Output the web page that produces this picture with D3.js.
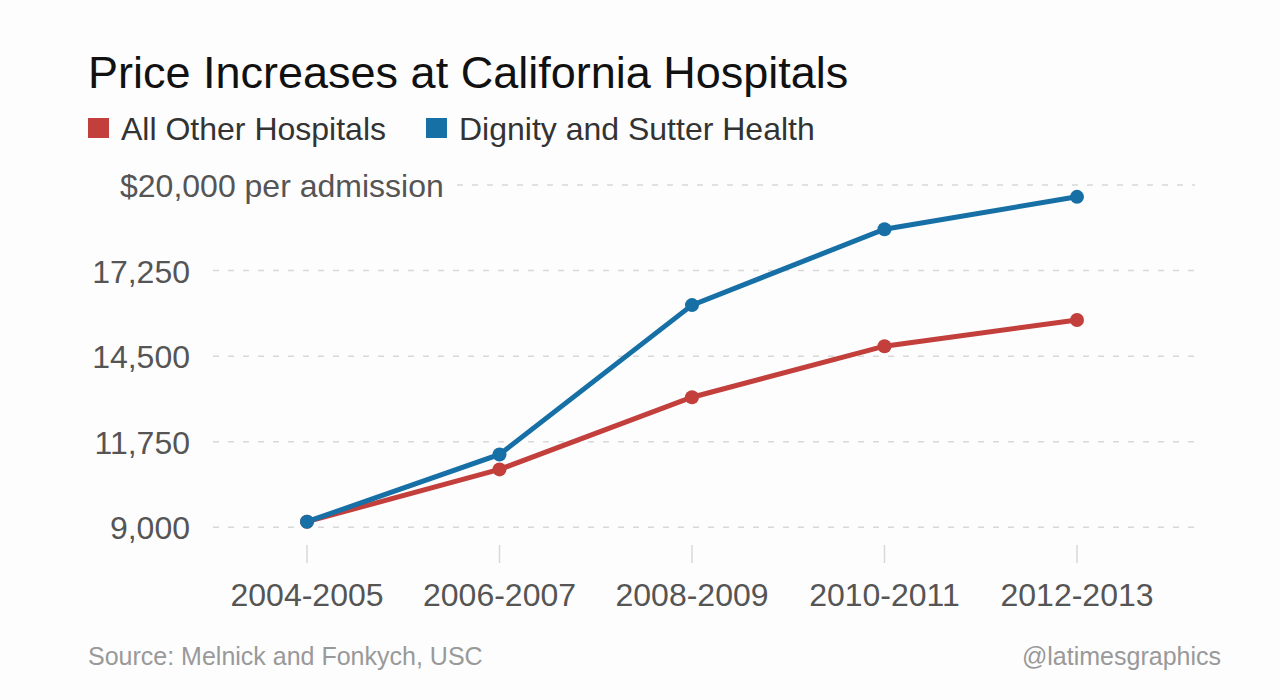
<!DOCTYPE html>
<html><head><meta charset="utf-8">
<script src="https://cdn.jsdelivr.net/npm/d3@7"></script>
<style>
body{margin:0;background:#fff;}
svg{font-family:"Liberation Sans",Arial,Helvetica,sans-serif;}
</style></head>
<body><svg id="c" width="1280" height="700"></svg>
<script>
const categories = ["2004-2005","2006-2007","2008-2009","2010-2011","2012-2013"];
const otherHospitals = [9180, 10860, 13180, 14820, 15660];
const dignitySutter = [9180, 11340, 16140, 18580, 19620];
const yTicks = [9000, 11750, 14500, 17250, 20000];
const seriesNames = ["All Other Hospitals", "Dignity and Sutter Health"];
const colors = ["#c23f3b", "#1670a6"];

const svg = d3.select("#c");
svg.append("rect").attr("width",1280).attr("height",700).attr("fill","#fdfdfe");

const x = d3.scalePoint().domain(categories).range([307, 1077]);
const y = d3.scaleLinear().domain([9000, 20000]).range([527.3, 185]);

// title
svg.append("text").attr("x",88).attr("y",88).attr("font-size",45).attr("fill","#111")
  .text("Price Increases at California Hospitals");

// legend
const leg = svg.append("g");
let lx = 88;
seriesNames.forEach((n,i)=>{
  leg.append("rect").attr("x",lx).attr("y",118).attr("width",21).attr("height",20).attr("fill",colors[i]);
  const t = leg.append("text").attr("x",lx+33).attr("y",140).attr("font-size",32).attr("fill","#333").text(n);
  lx += 33 + t.node().getComputedTextLength() + 40;
});

// grid
yTicks.forEach(v=>{
  svg.append("line").attr("x1", v===20000?457:213).attr("x2",1195)
    .attr("y1",y(v)).attr("y2",y(v))
    .attr("stroke","#d8d8d8").attr("stroke-width",1.5).attr("stroke-dasharray","6,9");
});

// y labels
yTicks.forEach(v=>{
  if (v===20000) {
    svg.append("text").attr("x",120).attr("y",y(v)+12).attr("font-size",32).attr("fill","#555")
      .text("$" + d3.format(",")(v) + " per admission");
  } else {
    svg.append("text").attr("x",190).attr("y",y(v)+12).attr("font-size",32).attr("fill","#555")
      .attr("text-anchor","end").text(d3.format(",")(v));
  }
});

// x axis ticks + labels
const xa = svg.append("g");
categories.forEach(c=>{
  xa.append("line").attr("x1",x(c)).attr("x2",x(c)).attr("y1",545).attr("y2",563)
    .attr("stroke","#d8d8d8").attr("stroke-width",1.5);
  xa.append("text").attr("x",x(c)).attr("y",606).attr("font-size",32).attr("fill","#555")
    .attr("text-anchor","middle").text(c);
});

// lines
const line = d3.line().x((d,i)=>x(categories[i])).y(d=>y(d));
[otherHospitals, dignitySutter].forEach((s,i)=>{
  svg.append("path").attr("d",line(s)).attr("fill","none").attr("stroke",colors[i]).attr("stroke-width",5);
  svg.selectAll(null).data(s).enter().append("circle")
    .attr("cx",(d,j)=>x(categories[j])).attr("cy",d=>y(d)).attr("r",7).attr("fill",colors[i]);
});

// footer
svg.append("text").attr("x",88).attr("y",665).attr("font-size",25).attr("fill","#999")
  .text("Source: Melnick and Fonkych, USC");
svg.append("text").attr("x",1221).attr("y",665).attr("font-size",25).attr("fill","#999")
  .attr("text-anchor","end").text("@latimesgraphics");
</script></body></html>
